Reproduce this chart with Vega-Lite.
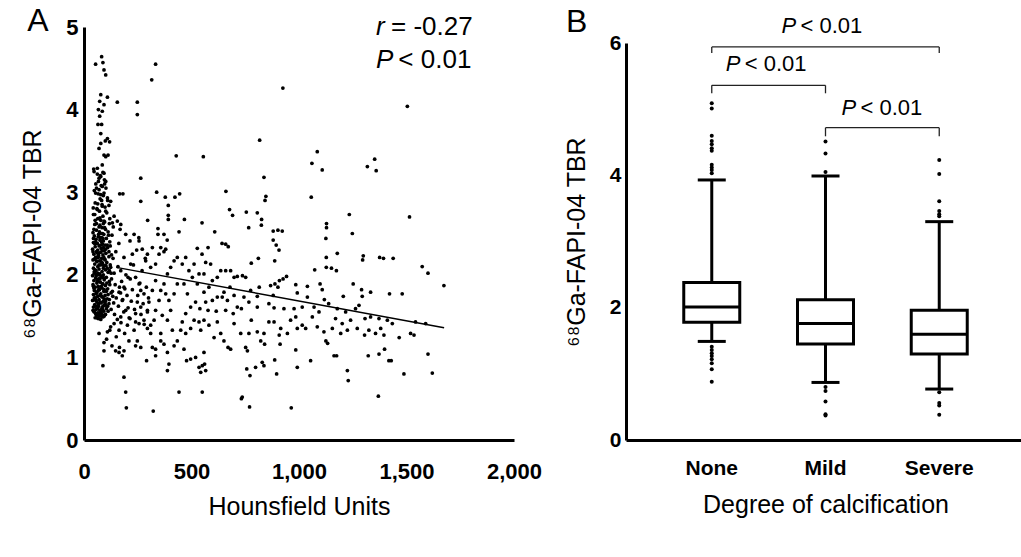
{
"$schema": "https://vega.github.io/schema/vega-lite/v6.json",
"background": "white",
"padding": {"left": 20, "top": 5, "right": 0, "bottom": 5},
"bounds": "flush",
"spacing": 112,
"config": {
  "font": "Liberation Sans",
  "view": {"stroke": null},
  "axis": {"domainColor": "black", "domainWidth": 3, "ticks": false, "grid": false, "labelColor": "black", "labelFont": "Liberation Sans", "labelFontWeight": "bold", "labelFontSize": 22, "titleFont": "Liberation Sans", "titleFontWeight": "normal", "titleFontSize": 25, "titleColor": "black"}
},
"hconcat": [
{
  "width": 430, "height": 413,
  "layer": [
    {
      "data": {"values": [
{"h":333,"v":4.55},{"h":315,"v":4.36},{"h":155,"v":4.09},{"h":248,"v":4.09},{"h":248,"v":3.94},{"h":925,"v":4.26},{"h":1504,"v":4.04},{"h":817,"v":3.63},{"h":429,"v":3.44},{"h":555,"v":3.43},{"h":1085,"v":3.49},{"h":1060,"v":3.35},{"h":1108,"v":3.27},{"h":1352,"v":3.40},{"h":1318,"v":3.31},{"h":1359,"v":3.26},{"h":264,"v":3.17},{"h":837,"v":3.18},{"h":1057,"v":2.94},{"h":166,"v":2.98},{"h":181,"v":2.98},{"h":338,"v":3.00},{"h":378,"v":2.94},{"h":423,"v":2.94},{"h":445,"v":2.98},{"h":660,"v":3.01},{"h":846,"v":2.95},{"h":842,"v":2.90},{"h":264,"v":2.89},{"h":392,"v":2.84},{"h":1514,"v":2.70},{"h":1234,"v":2.73},{"h":677,"v":2.79},{"h":691,"v":2.72},{"h":755,"v":2.76},{"h":806,"v":2.75},{"h":826,"v":2.67},{"h":825,"v":2.60},{"h":392,"v":2.72},{"h":392,"v":2.67},{"h":467,"v":2.67},{"h":296,"v":2.66},{"h":549,"v":2.63},{"h":766,"v":2.57},{"h":1128,"v":2.62},{"h":1128,"v":2.57},{"h":344,"v":2.56},{"h":344,"v":2.49},{"h":442,"v":2.52},{"h":1248,"v":2.50},{"h":608,"v":2.52},{"h":880,"v":2.53},{"h":902,"v":2.54},{"h":922,"v":2.53},{"h":372,"v":2.49},{"h":387,"v":2.42},{"h":880,"v":2.42},{"h":894,"v":2.36},{"h":907,"v":2.30},{"h":1125,"v":2.44},{"h":642,"v":2.38},{"h":659,"v":2.37},{"h":671,"v":2.34},{"h":527,"v":2.32},{"h":577,"v":2.33},{"h":1178,"v":2.26},{"h":549,"v":2.25},{"h":1299,"v":2.23},{"h":1296,"v":2.18},{"h":1375,"v":2.21},{"h":1438,"v":2.20},{"h":1393,"v":2.20},{"h":1127,"v":2.21},{"h":811,"v":2.20},{"h":778,"v":2.14},{"h":887,"v":2.17},{"h":1573,"v":2.10},{"h":1600,"v":2.02},{"h":1127,"v":2.09},{"h":1151,"v":2.08},{"h":1073,"v":2.06},{"h":1174,"v":2.05},{"h":942,"v":1.98},{"h":926,"v":1.95},{"h":909,"v":1.93},{"h":888,"v":1.89},{"h":868,"v":1.87},{"h":985,"v":1.88},{"h":1039,"v":1.86},{"h":1098,"v":1.89},{"h":1252,"v":1.89},{"h":1291,"v":1.82},{"h":1333,"v":1.79},{"h":1294,"v":1.74},{"h":1674,"v":1.87},{"h":1480,"v":1.77},{"h":1421,"v":1.77},{"h":1206,"v":1.74},{"h":1118,"v":1.70},{"h":1138,"v":1.65},{"h":1108,"v":1.82},{"h":1039,"v":1.73},{"h":992,"v":1.78},{"h":902,"v":1.85},{"h":880,"v":1.75},{"h":815,"v":1.85},{"h":806,"v":1.74},{"h":713,"v":1.98},{"h":737,"v":1.99},{"h":752,"v":1.97},{"h":679,"v":1.85},{"h":651,"v":1.79},{"h":620,"v":1.73},{"h":597,"v":1.69},{"h":566,"v":1.67},{"h":519,"v":1.67},{"h":539,"v":1.59},{"h":577,"v":1.57},{"h":615,"v":1.56},{"h":659,"v":1.57},{"h":694,"v":1.53},{"h":713,"v":1.61},{"h":732,"v":1.59},{"h":767,"v":1.67},{"h":806,"v":1.61},{"h":860,"v":1.65},{"h":884,"v":1.60},{"h":930,"v":1.59},{"h":977,"v":1.59},{"h":1015,"v":1.61},{"h":1070,"v":1.61},{"h":1093,"v":1.55},{"h":1178,"v":1.59},{"h":1217,"v":1.55},{"h":1263,"v":1.59},{"h":1279,"v":1.63},{"h":1307,"v":1.47},{"h":1333,"v":1.49},{"h":1372,"v":1.47},{"h":1411,"v":1.45},{"h":1434,"v":1.41},{"h":1542,"v":1.43},{"h":1589,"v":1.41},{"h":1519,"v":1.29},{"h":1535,"v":1.27},{"h":1466,"v":1.24},{"h":1395,"v":1.27},{"h":1380,"v":1.35},{"h":1356,"v":1.29},{"h":1325,"v":1.33},{"h":1305,"v":1.27},{"h":1271,"v":1.35},{"h":1240,"v":1.45},{"h":1225,"v":1.33},{"h":1201,"v":1.41},{"h":1194,"v":1.29},{"h":1170,"v":1.47},{"h":1155,"v":1.35},{"h":1125,"v":1.20},{"h":1133,"v":1.17},{"h":1116,"v":1.31},{"h":1085,"v":1.37},{"h":1062,"v":1.49},{"h":1031,"v":1.35},{"h":1015,"v":1.39},{"h":992,"v":1.35},{"h":985,"v":1.49},{"h":961,"v":1.45},{"h":946,"v":1.29},{"h":915,"v":1.35},{"h":912,"v":1.16},{"h":908,"v":1.27},{"h":884,"v":1.43},{"h":860,"v":1.43},{"h":837,"v":1.29},{"h":840,"v":1.16},{"h":822,"v":1.20},{"h":806,"v":1.31},{"h":778,"v":1.45},{"h":767,"v":1.29},{"h":752,"v":1.12},{"h":760,"v":1.08},{"h":729,"v":1.29},{"h":698,"v":1.41},{"h":670,"v":1.12},{"h":682,"v":1.10},{"h":651,"v":1.20},{"h":636,"v":1.29},{"h":620,"v":1.43},{"h":605,"v":1.24},{"h":581,"v":1.39},{"h":558,"v":1.45},{"h":543,"v":1.33},{"h":535,"v":1.43},{"h":512,"v":1.45},{"h":496,"v":1.35},{"h":473,"v":1.29},{"h":457,"v":1.43},{"h":450,"v":1.33},{"h":434,"v":1.20},{"h":419,"v":1.14},{"h":465,"v":1.10},{"h":477,"v":0.96},{"h":496,"v":0.98},{"h":519,"v":1.00},{"h":535,"v":0.88},{"h":550,"v":0.90},{"h":558,"v":1.06},{"h":566,"v":0.84},{"h":543,"v":0.82},{"h":550,"v":0.58},{"h":442,"v":0.58},{"h":388,"v":0.84},{"h":395,"v":0.92},{"h":388,"v":1.06},{"h":372,"v":1.16},{"h":357,"v":1.20},{"h":333,"v":1.02},{"h":333,"v":1.10},{"h":318,"v":1.12},{"h":291,"v":0.96},{"h":264,"v":1.12},{"h":248,"v":1.20},{"h":240,"v":1.14},{"h":209,"v":1.20},{"h":186,"v":1.08},{"h":163,"v":1.06},{"h":147,"v":1.08},{"h":178,"v":1.02},{"h":186,"v":0.76},{"h":194,"v":0.58},{"h":197,"v":0.39},{"h":322,"v":0.35},{"h":736,"v":0.52},{"h":732,"v":0.50},{"h":770,"v":0.40},{"h":964,"v":0.39},{"h":1369,"v":0.53},{"h":1225,"v":0.84},{"h":1229,"v":0.72},{"h":1488,"v":0.80},{"h":1620,"v":0.81},{"h":1600,"v":1.04},{"h":1418,"v":0.96},{"h":1429,"v":0.96},{"h":1398,"v":1.10},{"h":1372,"v":1.04},{"h":1322,"v":1.02},{"h":1175,"v":1.02},{"h":1163,"v":1.02},{"h":1054,"v":0.96},{"h":992,"v":0.88},{"h":985,"v":1.09},{"h":896,"v":0.80},{"h":887,"v":0.97},{"h":837,"v":0.90},{"h":829,"v":0.94},{"h":798,"v":0.88},{"h":772,"v":0.78},{"h":757,"v":0.86},{"h":561,"v":0.92},
{"h":163,"v":1.79},{"h":186,"v":1.85},{"h":205,"v":1.97},{"h":217,"v":2.13},{"h":225,"v":2.25},{"h":214,"v":2.41},{"h":194,"v":2.49},{"h":171,"v":2.61},{"h":233,"v":2.49},{"h":256,"v":2.41},{"h":240,"v":1.97},{"h":256,"v":1.89},{"h":264,"v":1.81},{"h":279,"v":1.77},{"h":248,"v":1.67},{"h":264,"v":1.61},{"h":240,"v":1.53},{"h":214,"v":1.47},{"h":202,"v":1.39},{"h":233,"v":1.33},{"h":256,"v":1.41},{"h":279,"v":1.45},{"h":295,"v":1.35},{"h":310,"v":1.39},{"h":310,"v":1.29},{"h":326,"v":1.45},{"h":333,"v":1.57},{"h":349,"v":1.69},{"h":357,"v":1.81},{"h":372,"v":1.89},{"h":388,"v":2.01},{"h":403,"v":2.09},{"h":419,"v":2.17},{"h":434,"v":2.21},{"h":457,"v":2.13},{"h":473,"v":2.21},{"h":488,"v":2.05},{"h":504,"v":1.97},{"h":527,"v":1.89},{"h":380,"v":1.77},{"h":395,"v":1.69},{"h":419,"v":1.77},{"h":434,"v":1.89},{"h":465,"v":1.89},{"h":403,"v":1.57},{"h":388,"v":1.45},{"h":364,"v":1.51},{"h":411,"v":1.33},{"h":357,"v":1.29},{"h":295,"v":1.57},{"h":302,"v":1.67},{"h":318,"v":1.81},{"h":333,"v":1.93},{"h":310,"v":2.09},{"h":295,"v":2.25},{"h":287,"v":2.17},{"h":333,"v":2.13},{"h":349,"v":2.25},{"h":357,"v":2.33},{"h":372,"v":2.28},{"h":380,"v":2.31},{"h":318,"v":2.33},{"h":271,"v":2.31},{"h":186,"v":2.21},{"h":171,"v":2.05},{"h":178,"v":1.69},{"h":194,"v":1.57},{"h":171,"v":1.49},{"h":163,"v":1.33},{"h":189,"v":1.29},{"h":496,"v":1.61},{"h":473,"v":1.53},{"h":481,"v":1.77},{"h":558,"v":1.79},{"h":581,"v":1.85},{"h":597,"v":1.93},{"h":620,"v":1.97},{"h":636,"v":2.05},{"h":659,"v":2.05},{"h":682,"v":2.05},{"h":698,"v":1.97},{"h":558,"v":2.01},{"h":535,"v":2.01},{"h":589,"v":2.13},{"h":566,"v":2.15},{"h":512,"v":2.13},{"h":643,"v":1.73},{"h":667,"v":1.69},{"h":698,"v":1.75},{"h":744,"v":1.73},{"h":775,"v":1.81},
{"h":54,"v":4.55},{"h":82,"v":4.64},{"h":88,"v":4.57},{"h":93,"v":4.48},{"h":101,"v":4.42},{"h":78,"v":4.18},{"h":73,"v":4.10},{"h":109,"v":4.15},{"h":93,"v":4.06},{"h":67,"v":4.00},{"h":85,"v":3.98},{"h":73,"v":3.92},{"h":65,"v":3.82},{"h":82,"v":3.82},{"h":78,"v":3.71},{"h":109,"v":3.65},{"h":119,"v":3.61},{"h":99,"v":3.62},{"h":78,"v":3.59},{"h":70,"v":3.53},{"h":93,"v":3.45},{"h":101,"v":3.43},{"h":112,"v":3.45},{"h":85,"v":3.33},{"h":62,"v":3.29},{"h":47,"v":3.25},{"h":93,"v":3.23},{"h":78,"v":3.19},{"h":67,"v":3.13},{"h":101,"v":3.13},{"h":85,"v":3.07},{"h":70,"v":3.03},{"h":54,"v":2.99},{"h":78,"v":2.97},{"h":93,"v":2.99},{"h":109,"v":2.93},{"h":124,"v":2.89},{"h":43,"v":2.81},{"h":62,"v":2.79},{"h":85,"v":2.83},{"h":101,"v":2.77},{"h":116,"v":2.84},{"h":140,"v":2.71},{"h":50,"v":2.73},{"h":74,"v":2.69},{"h":93,"v":2.65},{"h":132,"v":2.63},{"h":155,"v":2.65},
{"h":45,"v":3.28},{"h":62,"v":3.22},{"h":88,"v":3.24},{"h":70,"v":3.17},{"h":95,"v":3.15},{"h":55,"v":3.10},{"h":80,"v":3.08},{"h":102,"v":3.05},{"h":48,"v":3.02},{"h":66,"v":2.98},{"h":90,"v":2.96},{"h":75,"v":2.92},{"h":110,"v":2.90},{"h":52,"v":2.87},{"h":84,"v":2.85},{"h":98,"v":2.82},{"h":60,"v":2.80},{"h":72,"v":2.77},{"h":106,"v":2.75},{"h":44,"v":2.73},{"h":88,"v":2.71},{"h":64,"v":2.68},{"h":78,"v":2.66},{"h":96,"v":2.64},{"h":118,"v":2.62},{"h":50,"v":2.61},{"h":70,"v":2.58},{"h":84,"v":2.57},{"h":100,"v":2.55},{"h":58,"v":2.54},{"h":112,"v":2.52},{"h":42,"v":2.51},{"h":76,"v":2.50},{"h":92,"v":2.49},
{"h":48,"v":2.47},{"h":66,"v":2.46},{"h":82,"v":2.45},{"h":104,"v":2.44},{"h":56,"v":2.43},{"h":74,"v":2.42},{"h":90,"v":2.41},{"h":120,"v":2.40},{"h":44,"v":2.39},{"h":62,"v":2.38},{"h":86,"v":2.37},{"h":98,"v":2.36},{"h":70,"v":2.35},{"h":52,"v":2.34},{"h":110,"v":2.33},{"h":80,"v":2.32},{"h":40,"v":2.31},{"h":64,"v":2.30},{"h":94,"v":2.29},{"h":58,"v":2.28},{"h":76,"v":2.27},{"h":102,"v":2.26},{"h":46,"v":2.25},{"h":88,"v":2.24},{"h":68,"v":2.23},{"h":116,"v":2.22},{"h":54,"v":2.21},{"h":82,"v":2.20},{"h":96,"v":2.19},{"h":42,"v":2.18},{"h":72,"v":2.17},{"h":60,"v":2.16},{"h":106,"v":2.15},{"h":86,"v":2.14},{"h":50,"v":2.13},{"h":78,"v":2.12},{"h":92,"v":2.11},{"h":64,"v":2.10},{"h":124,"v":2.09},{"h":44,"v":2.08},{"h":70,"v":2.07},{"h":100,"v":2.06},{"h":56,"v":2.05},{"h":84,"v":2.04},{"h":112,"v":2.03},{"h":48,"v":2.02},{"h":74,"v":2.01},{"h":90,"v":2.00},{"h":62,"v":2.00},{"h":40,"v":1.99},
{"h":80,"v":1.98},{"h":104,"v":1.97},{"h":54,"v":1.96},{"h":68,"v":1.95},{"h":94,"v":1.94},{"h":46,"v":1.93},{"h":118,"v":1.92},{"h":76,"v":1.91},{"h":60,"v":1.90},{"h":88,"v":1.89},{"h":42,"v":1.88},{"h":100,"v":1.87},{"h":66,"v":1.86},{"h":52,"v":1.85},{"h":84,"v":1.84},{"h":110,"v":1.83},{"h":72,"v":1.82},{"h":48,"v":1.81},{"h":92,"v":1.80},{"h":58,"v":1.79},{"h":126,"v":1.78},{"h":78,"v":1.77},{"h":44,"v":1.76},{"h":98,"v":1.75},{"h":64,"v":1.74},{"h":86,"v":1.73},{"h":54,"v":1.72},{"h":108,"v":1.71},{"h":70,"v":1.70},{"h":40,"v":1.69},{"h":90,"v":1.68},{"h":60,"v":1.67},{"h":80,"v":1.66},{"h":116,"v":1.65},{"h":50,"v":1.64},{"h":96,"v":1.63},{"h":68,"v":1.62},{"h":44,"v":1.61},{"h":84,"v":1.60},{"h":104,"v":1.59},{"h":56,"v":1.58},{"h":74,"v":1.57},{"h":92,"v":1.56},{"h":48,"v":1.55},{"h":64,"v":1.54},{"h":82,"v":1.53},{"h":100,"v":1.52},{"h":58,"v":1.51},{"h":72,"v":1.50},{"h":88,"v":1.49},{"h":52,"v":1.48},{"h":66,"v":1.47},{"h":78,"v":1.46},{"h":94,"v":1.50},
{"h":58,"v":2.62},{"h":82,"v":2.40},{"h":66,"v":2.21},{"h":90,"v":2.33},{"h":52,"v":2.06},{"h":76,"v":2.45},{"h":98,"v":2.18},{"h":62,"v":1.92},{"h":86,"v":1.97},{"h":70,"v":2.12},{"h":46,"v":1.84},{"h":106,"v":1.90},{"h":74,"v":1.75},{"h":56,"v":1.69},{"h":94,"v":1.82},{"h":64,"v":1.59},{"h":80,"v":1.86},{"h":48,"v":1.72},{"h":112,"v":1.76},{"h":68,"v":1.65},{"h":88,"v":1.62},{"h":54,"v":1.53},{"h":100,"v":1.68},{"h":42,"v":1.57},{"h":76,"v":1.55},{"h":60,"v":2.27},{"h":84,"v":2.29},{"h":50,"v":2.38},{"h":108,"v":2.36},{"h":72,"v":2.52},{"h":96,"v":2.57},{"h":44,"v":2.44},{"h":64,"v":2.02},{"h":90,"v":2.08},{"h":56,"v":1.99},{"h":80,"v":2.16},{"h":102,"v":2.11},{"h":68,"v":2.26},{"h":48,"v":2.19},{"h":86,"v":2.50},{"h":118,"v":2.05},{"h":60,"v":1.78},{"h":74,"v":1.95},{"h":94,"v":1.71},{"h":52,"v":1.62},{"h":82,"v":1.58},{"h":66,"v":1.81},{"h":98,"v":1.64},
{"h":46,"v":2.55},{"h":68,"v":2.49},{"h":88,"v":2.44},{"h":54,"v":2.40},{"h":78,"v":2.36},{"h":100,"v":2.31},{"h":42,"v":2.28},{"h":66,"v":2.24},{"h":92,"v":2.21},{"h":58,"v":2.17},{"h":84,"v":2.13},{"h":108,"v":2.08},{"h":48,"v":2.04},{"h":72,"v":2.00},{"h":96,"v":1.96},{"h":62,"v":1.93},{"h":86,"v":1.89},{"h":44,"v":1.86},{"h":70,"v":1.83},{"h":104,"v":1.80},{"h":56,"v":1.77},{"h":82,"v":1.74},{"h":50,"v":1.70},{"h":76,"v":1.67},{"h":98,"v":1.65},{"h":62,"v":1.62},{"h":86,"v":1.58},{"h":46,"v":1.56},{"h":70,"v":1.53},{"h":92,"v":1.51},{"h":60,"v":1.48},{"h":80,"v":1.50},{"h":74,"v":2.60},{"h":52,"v":2.66},{"h":90,"v":2.62},{"h":64,"v":2.86},{"h":82,"v":2.90},{"h":58,"v":3.05},{"h":96,"v":3.10},{"h":76,"v":3.20},{"h":114,"v":2.48},{"h":116,"v":2.28},{"h":122,"v":2.12},{"h":120,"v":1.88},{"h":118,"v":1.70},{"h":112,"v":1.56},{"h":128,"v":2.24},{"h":134,"v":1.74},{"h":126,"v":2.02},{"h":110,"v":1.62},
{"h":122,"v":2.35},{"h":130,"v":2.48},{"h":135,"v":2.20},{"h":140,"v":2.02},{"h":128,"v":1.95},{"h":145,"v":1.88},{"h":132,"v":1.80},{"h":150,"v":1.72},{"h":138,"v":1.66},{"h":126,"v":1.58},{"h":142,"v":1.52},{"h":155,"v":1.46},{"h":160,"v":1.62},{"h":165,"v":1.85},{"h":170,"v":1.78},{"h":158,"v":2.10},{"h":175,"v":1.92},{"h":148,"v":2.28},{"h":180,"v":1.70},{"h":185,"v":1.55},{"h":172,"v":1.42},{"h":190,"v":1.83},{"h":162,"v":2.38},{"h":168,"v":2.55},{"h":120,"v":2.68},{"h":136,"v":2.58},{"h":195,"v":2.00},{"h":200,"v":1.75},{"h":205,"v":1.60},{"h":210,"v":1.48},{"h":215,"v":1.95},{"h":220,"v":1.68},{"h":225,"v":1.82},{"h":230,"v":2.12},{"h":235,"v":1.58},{"h":240,"v":1.43},{"h":245,"v":2.30},{"h":250,"v":1.75},{"h":255,"v":2.45},{"h":260,"v":1.90},{"h":265,"v":1.52},{"h":270,"v":2.05},{"h":275,"v":1.65},{"h":280,"v":1.40},{"h":285,"v":2.20},{"h":290,"v":1.85},{"h":295,"v":1.55},{"h":300,"v":1.72},
{"h":93,"v":1.08},{"h":88,"v":0.90},{"h":70,"v":1.29},{"h":93,"v":1.18},{"h":124,"v":1.37},{"h":140,"v":1.41},{"h":109,"v":1.31},{"h":105,"v":1.22},{"h":130,"v":1.14},{"h":150,"v":1.25},{"h":165,"v":1.12},{"h":120,"v":1.33}
      ]},
      "mark": {"type": "circle", "size": 14, "color": "black", "opacity": 1},
      "encoding": {
        "x": {"field": "h", "type": "quantitative", "scale": {"domain": [0, 2000], "nice": false}, "axis": {"values": [0, 500, 1000, 1500, 2000], "format": ",.0f", "labelPadding": 21, "labelFlush": false, "title": "Hounsfield Units", "titlePadding": 12}},
        "y": {"field": "v", "type": "quantitative", "scale": {"domain": [0, 5], "nice": false}, "axis": {"values": [0, 1, 2, 3, 4, 5], "format": ".0f", "labelPadding": 6, "labelFlush": false, "title": "⁶⁸Ga-FAPI-04 TBR", "titlePadding": 20}}
      }
    },
    {
      "data": {"values": [{"h": 150, "v": 2.09}, {"h": 1675, "v": 1.36}]},
      "mark": {"type": "line", "color": "black", "strokeWidth": 1.5},
      "encoding": {"x": {"field": "h", "type": "quantitative"}, "y": {"field": "v", "type": "quantitative"}}
    },
    {
      "data": {"values": [{"h": 1358, "v": 5.0, "t": "r"}, {"h": 1358, "v": 4.6, "t": "P"}]},
      "mark": {"type": "text", "align": "left", "baseline": "middle", "fontSize": 26, "fontStyle": "italic", "color": "black"},
      "encoding": {"x": {"field": "h", "type": "quantitative"}, "y": {"field": "v", "type": "quantitative"}, "text": {"field": "t"}}
    },
    {
      "data": {"values": [{"h": 1428, "v": 5.0, "t": "= -0.27"}, {"h": 1462, "v": 4.6, "t": "< 0.01"}]},
      "mark": {"type": "text", "align": "left", "baseline": "middle", "fontSize": 26, "color": "black"},
      "encoding": {"x": {"field": "h", "type": "quantitative"}, "y": {"field": "v", "type": "quantitative"}, "text": {"field": "t"}}
    },
    {
      "data": {"values": [{"h": -214, "v": 5.07, "t": "A"}]},
      "mark": {"type": "text", "align": "center", "baseline": "middle", "fontSize": 32, "color": "black"},
      "encoding": {"x": {"field": "h", "type": "quantitative"}, "y": {"field": "v", "type": "quantitative"}, "text": {"field": "t"}}
    }
  ]
},
{
  "width": 399, "height": 413,
  "layer": [
    {
      "data": {"values": [{"c": "None", "lo": 1.49, "q1": 1.78, "med": 2.01, "q3": 2.38, "hi": 3.93}, {"c": "Mild", "lo": 0.87, "q1": 1.45, "med": 1.76, "q3": 2.12, "hi": 3.99}, {"c": "Severe", "lo": 0.77, "q1": 1.30, "med": 1.60, "q3": 1.96, "hi": 3.30}]},
      "mark": {"type": "rule", "color": "black", "strokeWidth": 3},
      "encoding": {
        "x": {"field": "c", "type": "nominal", "sort": null, "scale": {"domain": ["None", "Mild", "Severe"], "paddingInner": 0, "paddingOuter": 0.254}, "axis": {"labelAngle": 0, "labelPadding": 17, "labelFontSize": 21, "title": "Degree of calcification", "titlePadding": 14}},
        "y": {"field": "lo", "type": "quantitative", "scale": {"domain": [0, 6], "nice": false, "range": [413, 16]}, "axis": {"values": [0, 2, 4, 6], "format": ".0f", "labelPadding": 5, "labelFontSize": 21, "labelFlush": false, "title": "⁶⁸Ga-FAPI-04 TBR", "titlePadding": 20}},
        "y2": {"field": "hi"}
      }
    },
    {
      "data": {"values": [{"c": "None", "lo": 1.49, "q1": 1.78, "med": 2.01, "q3": 2.38, "hi": 3.93}, {"c": "Mild", "lo": 0.87, "q1": 1.45, "med": 1.76, "q3": 2.12, "hi": 3.99}, {"c": "Severe", "lo": 0.77, "q1": 1.30, "med": 1.60, "q3": 1.96, "hi": 3.30}]},
      "layer": [
        {"mark": {"type": "bar", "size": 56, "fill": "white", "stroke": "black", "strokeWidth": 3}, "encoding": {"x": {"field": "c", "type": "nominal"}, "y": {"field": "q1", "type": "quantitative"}, "y2": {"field": "q3"}}},
        {"mark": {"type": "tick", "size": 56, "thickness": 3, "color": "black", "opacity": 1}, "encoding": {"x": {"field": "c", "type": "nominal"}, "y": {"field": "med", "type": "quantitative"}}},
        {"mark": {"type": "tick", "size": 28, "thickness": 3, "color": "black", "opacity": 1}, "encoding": {"x": {"field": "c", "type": "nominal"}, "y": {"field": "lo", "type": "quantitative"}}},
        {"mark": {"type": "tick", "size": 28, "thickness": 3, "color": "black", "opacity": 1}, "encoding": {"x": {"field": "c", "type": "nominal"}, "y": {"field": "hi", "type": "quantitative"}}}
      ]
    },
    {
      "data": {"values": [
        {"c": "None", "v": 5.09}, {"c": "None", "v": 5.01}, {"c": "None", "v": 4.60}, {"c": "None", "v": 4.52}, {"c": "None", "v": 4.47}, {"c": "None", "v": 4.41}, {"c": "None", "v": 4.37}, {"c": "None", "v": 4.16}, {"c": "None", "v": 4.12}, {"c": "None", "v": 4.08}, {"c": "None", "v": 4.03},
        {"c": "None", "v": 1.41}, {"c": "None", "v": 1.36}, {"c": "None", "v": 1.31}, {"c": "None", "v": 1.27}, {"c": "None", "v": 1.22}, {"c": "None", "v": 1.16}, {"c": "None", "v": 1.07}, {"c": "None", "v": 0.88},
        {"c": "Mild", "v": 4.51}, {"c": "Mild", "v": 4.33}, {"c": "Mild", "v": 4.05}, {"c": "Mild", "v": 0.80}, {"c": "Mild", "v": 0.74}, {"c": "Mild", "v": 0.58}, {"c": "Mild", "v": 0.39}, {"c": "Mild", "v": 0.37},
        {"c": "Severe", "v": 4.23}, {"c": "Severe", "v": 4.02}, {"c": "Severe", "v": 3.61}, {"c": "Severe", "v": 3.46}, {"c": "Severe", "v": 3.41}, {"c": "Severe", "v": 3.38}, {"c": "Severe", "v": 0.72}, {"c": "Severe", "v": 0.56}, {"c": "Severe", "v": 0.52}, {"c": "Severe", "v": 0.38}
      ]},
      "mark": {"type": "circle", "size": 16, "color": "black", "opacity": 1},
      "encoding": {"x": {"field": "c", "type": "nominal"}, "y": {"field": "v", "type": "quantitative"}}
    },
    {
      "data": {"values": [{"a": "None", "b": "Severe", "y": 5.94}, {"a": "None", "b": "Mild", "y": 5.36}, {"a": "Mild", "b": "Severe", "y": 4.72}]},
      "mark": {"type": "rule", "color": "#222222", "strokeWidth": 1.3},
      "encoding": {"x": {"field": "a", "type": "nominal"}, "x2": {"field": "b"}, "y": {"field": "y", "type": "quantitative"}}
    },
    {
      "data": {"values": [{"c": "None", "y": 5.94, "y2": 5.85}, {"c": "Severe", "y": 5.94, "y2": 5.85}, {"c": "None", "y": 5.36, "y2": 5.24}, {"c": "Mild", "y": 5.36, "y2": 5.24}, {"c": "Mild", "y": 4.72, "y2": 4.59}, {"c": "Severe", "y": 4.72, "y2": 4.59}]},
      "mark": {"type": "rule", "color": "#222222", "strokeWidth": 1.3},
      "encoding": {"x": {"field": "c", "type": "nominal"}, "y": {"field": "y", "type": "quantitative"}, "y2": {"field": "y2"}}
    },
    {
      "data": {"values": [{"c": "Mild", "y": 6.25, "t": "P"}]},
      "mark": {"type": "text", "align": "left", "baseline": "middle", "fontSize": 22, "fontStyle": "italic", "color": "black", "dx": -44},
      "encoding": {"x": {"field": "c", "type": "nominal"}, "y": {"field": "y", "type": "quantitative"}, "text": {"field": "t"}}
    },
    {
      "data": {"values": [{"c": "Mild", "y": 6.25, "t": "< 0.01"}]},
      "mark": {"type": "text", "align": "left", "baseline": "middle", "fontSize": 22, "color": "black", "dx": -25},
      "encoding": {"x": {"field": "c", "type": "nominal"}, "y": {"field": "y", "type": "quantitative"}, "text": {"field": "t"}}
    },
    {
      "data": {"values": [{"c": "None", "y": 5.69, "t": "P"}]},
      "mark": {"type": "text", "align": "left", "baseline": "middle", "fontSize": 22, "fontStyle": "italic", "color": "black", "dx": 14},
      "encoding": {"x": {"field": "c", "type": "nominal"}, "y": {"field": "y", "type": "quantitative"}, "text": {"field": "t"}}
    },
    {
      "data": {"values": [{"c": "None", "y": 5.69, "t": "< 0.01"}]},
      "mark": {"type": "text", "align": "left", "baseline": "middle", "fontSize": 22, "color": "black", "dx": 33},
      "encoding": {"x": {"field": "c", "type": "nominal"}, "y": {"field": "y", "type": "quantitative"}, "text": {"field": "t"}}
    },
    {
      "data": {"values": [{"c": "Mild", "y": 5.02, "t": "P"}]},
      "mark": {"type": "text", "align": "left", "baseline": "middle", "fontSize": 22, "fontStyle": "italic", "color": "black", "dx": 16},
      "encoding": {"x": {"field": "c", "type": "nominal"}, "y": {"field": "y", "type": "quantitative"}, "text": {"field": "t"}}
    },
    {
      "data": {"values": [{"c": "Mild", "y": 5.02, "t": "< 0.01"}]},
      "mark": {"type": "text", "align": "left", "baseline": "middle", "fontSize": 22, "color": "black", "dx": 35},
      "encoding": {"x": {"field": "c", "type": "nominal"}, "y": {"field": "y", "type": "quantitative"}, "text": {"field": "t"}}
    },
    {
      "data": {"values": [{"c": "None", "y": 6.32, "t": "B"}]},
      "mark": {"type": "text", "align": "center", "baseline": "middle", "fontSize": 32, "color": "black", "dx": -135},
      "encoding": {"x": {"field": "c", "type": "nominal"}, "y": {"field": "y", "type": "quantitative"}, "text": {"field": "t"}}
    }
  ]
}
]
}
